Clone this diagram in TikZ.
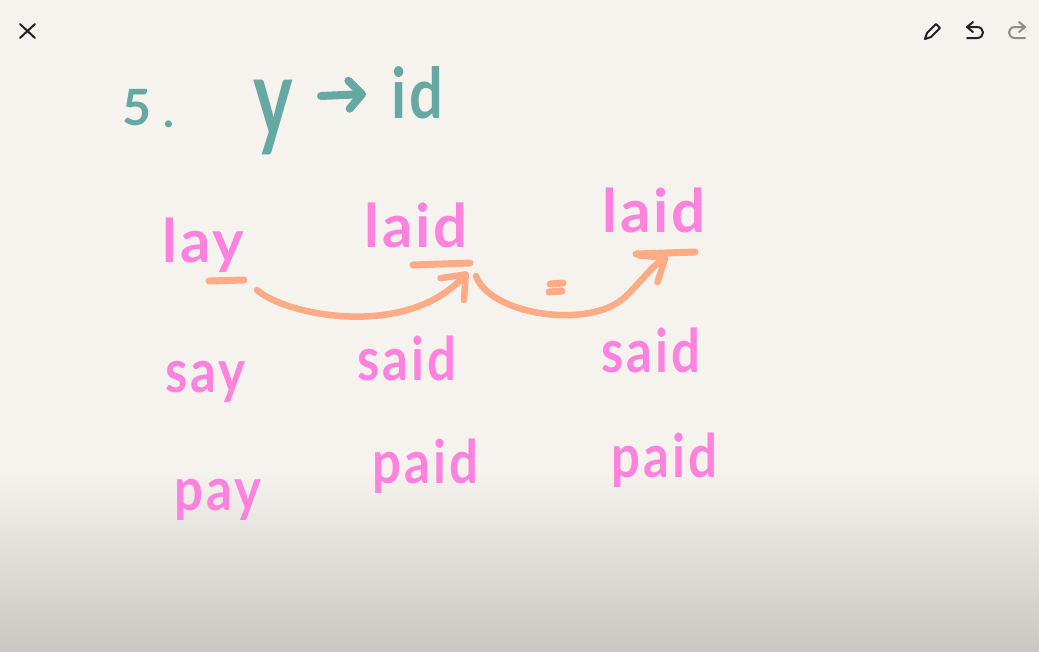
\documentclass[tikz,border=0pt]{standalone}
\usepackage{xcolor}
\usepackage{fontspec}
\usepackage{tikz}
\usetikzlibrary{arrows.meta, calc}
\newfontfamily\handfont[LetterSpace=5]{Lato}
\newfontfamily\handnarrow[LetterSpace=5,FakeStretch=0.85]{Lato}
\newfontfamily\handslim[FakeStretch=0.68]{Lato}
\definecolor{paper}{HTML}{F6F3EE}
\definecolor{floor}{HTML}{CAC7C3}
\definecolor{pinkink}{HTML}{FF82DE}
\definecolor{tealink}{HTML}{66A9A2}
\definecolor{peachink}{HTML}{FFAB85}
\definecolor{iconink}{HTML}{222222}
\definecolor{icondim}{HTML}{8E8C89}

\begin{document}
\begin{tikzpicture}[
  x=1pt, y=-1pt,
  word/.style={anchor=base west, inner sep=0pt, text=pinkink,
               font=\handfont\bfseries\fontsize{60}{60}\selectfont},
  wordnarrow/.style={word, font=\handnarrow\bfseries\fontsize{60}{60}\selectfont},
  head/.style={anchor=base west, inner sep=0pt, text=tealink,
               font=\handnarrow\bfseries\fontsize{70}{70}\selectfont},
  stroke/.style={draw=peachink, line width=7pt, line cap=round, line join=round},
  arc/.style={stroke, line width=6.5pt, -{Straight Barb[round, length=20pt, width=32pt]}},
  icon/.style={draw=iconink, line width=2pt, line cap=round, line join=round},
  icondimmed/.style={icon, draw=icondim}
]
  % paper and the darker strip at the bottom
  \fill[paper] (0,0) rectangle (1039,651);
  \shade[top color=paper, bottom color=floor, draw=none] (0,470) rectangle (1039,651);
  \useasboundingbox (0,0) rectangle (1039,651);

  % title
  \node[head, font=\handfont\bfseries\fontsize{50}{50}\selectfont] (num) at (122,125) {5};
  \node[head, font=\handfont\bfseries\fontsize{46}{46}\selectfont] (numdot) at (163,127) {.};
  \node[head, font=\handslim\bfseries\fontsize{110}{110}\selectfont] (ytitle) at (253,136) {y};
  \node[head] (idtitle) at (391,118) {id};
  \coordinate (arrowA) at (321,96);
  \coordinate (arrowB) at (366,94);
  \draw[draw=tealink, line width=8pt, line cap=round,
        -{Straight Barb[round, length=13pt, width=28pt]}] (arrowA) -- (arrowB);

  % words
  \node[word] (lay) at (162,262) {lay};
  \node[word] (laidA) at (364,247) {laid};
  \node[word] (laidB) at (602,232) {laid};
  \node[wordnarrow] (say) at (165,392) {say};
  \node[wordnarrow] (saidA) at (357,380) {said};
  \node[wordnarrow] (saidB) at (601,372) {said};
  \node[wordnarrow] (pay) at (174,510) {pay};
  \node[wordnarrow] (paidA) at (372,483) {paid};
  \node[wordnarrow] (paidB) at (611,477) {paid};

  % underlines
  \coordinate (layL) at (209,281);
  \coordinate (layR) at (244,280);
  \coordinate (laidAL) at (413,265);
  \coordinate (laidAR) at (470,263);
  \coordinate (laidBL) at (636,254);
  \coordinate (laidBR) at (695,252);
  \draw[stroke] (layL) -- (layR);
  \draw[stroke] (laidAL) -- (laidAR);
  \draw[stroke] (laidBL) -- (laidBR);

  % arcs between the underlines
  \coordinate (arcAs) at (257,290);
  \coordinate (arcAe) at (468,272);
  \coordinate (arcBs) at (476,276);
  \coordinate (arcBe) at (668,256);
  \draw[arc] (arcAs) .. controls (285,315) and (405,340) .. (arcAe);
  \draw[arc] (arcBs) .. controls (490,315) and (590,330) .. (625,297)
     .. controls (640,283) and (650,268) .. (arcBe);
  % the small scribble between the arcs
  \draw[stroke] (550,284) -- (563,283) (549,292) -- (562,291);

  % toolbar
  \coordinate (closeA) at (20,24);
  \coordinate (closeB) at (35,38);
  \coordinate (closeC) at (35,24);
  \coordinate (closeD) at (20,38);
  \draw[icon] (closeA) -- (closeB) (closeC) -- (closeD);
  \draw[icon] (925,39) -- (927,33) -- (936,24) -- (940,28) -- (931,37) -- cycle;
  \draw[icon] (967,27) -- (977,27) .. controls (985,27) and (985,38) .. (977,38) -- (967,38);
  \draw[icon] (973,22) -- (967,27) -- (973,32);
  \draw[icondimmed] (1025,27) -- (1015,27) .. controls (1007,27) and (1007,38) .. (1015,38) -- (1025,38);
  \draw[icondimmed] (1019,22) -- (1025,27) -- (1019,32);
\end{tikzpicture}
\end{document}
